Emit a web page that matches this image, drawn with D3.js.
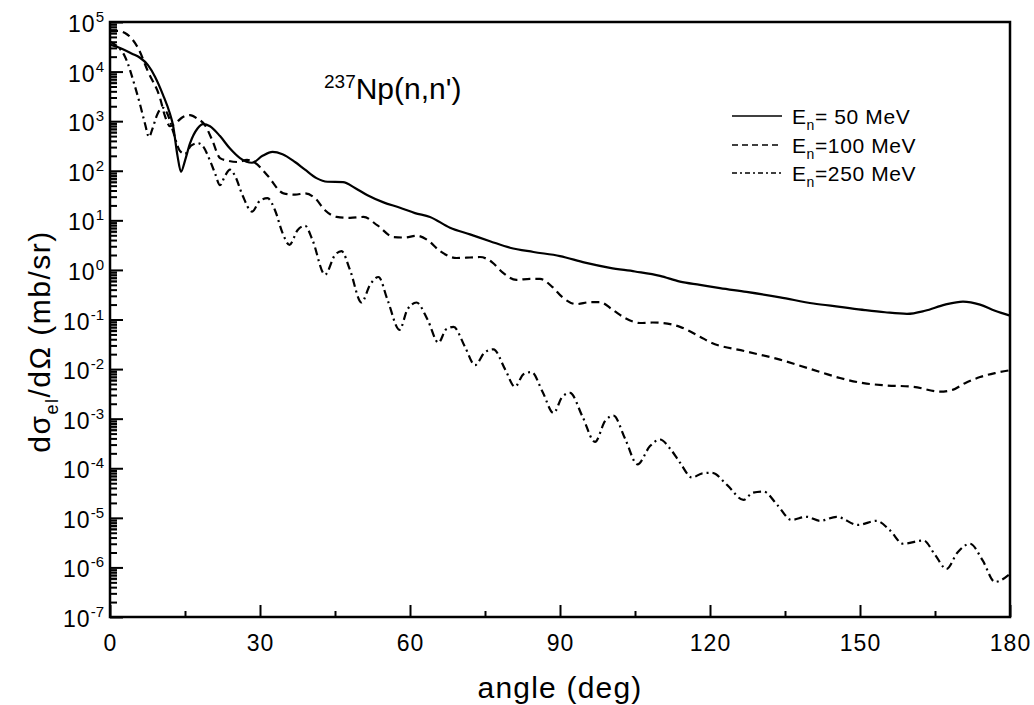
<!DOCTYPE html>
<html>
<head>
<meta charset="utf-8">
<script src="https://cdn.jsdelivr.net/npm/d3@7"></script>
<style>
  body { margin: 0; background: #fff; }
  svg text { font-family: "Liberation Sans", Arial, Helvetica, sans-serif; fill: #000; }
</style>
</head>
<body>
<script>
// E = 50 MeV
var angle50 = [0, 2, 4.4, 6, 7.6, 9, 10.6, 12, 12.6, 13.5, 14.2, 15, 16, 17.5, 18.6, 20, 22, 24, 26, 28.4,
  30.5, 32.5, 34.5, 37, 39, 41.3, 43.5, 46.6, 49, 51.5, 54.7, 58, 61, 64, 68, 72, 76, 80, 84.7, 90,
  95, 100, 105, 110, 114, 118, 122, 127.3, 134, 140.7, 146, 151, 155, 159.4, 163, 167, 170.6, 174, 177, 180];
var xs50 = [3.5e4, 3.0e4, 2.3e4, 1.9e4, 1.35e4, 7.9e3, 3.4e3, 1.4e3, 830, 200, 95, 160, 355, 710, 870, 790, 500, 280, 180, 145,
  200, 240, 215, 150, 105, 71, 60, 59, 45, 32, 23, 18, 14, 11.7, 7.1, 5.2, 3.8, 2.8, 2.3, 1.9,
  1.4, 1.1, 0.93, 0.76, 0.58, 0.5, 0.43, 0.36, 0.28, 0.21, 0.18, 0.155, 0.14, 0.13, 0.15, 0.2, 0.23, 0.2, 0.15, 0.12];

// E = 100 MeV
var angle100 = [0, 1.5, 3, 5.6, 7.6, 10, 11, 12, 13, 14.5, 16, 17.5, 19, 20.5, 22, 23.5, 25.6, 27.4, 29, 31.5,
  34.7, 37, 39, 41, 43, 45.3, 48, 50.7, 53.5, 56.7, 59, 61.3, 63.5, 66, 69.3, 72, 74, 76.5, 78.5, 81.3,
  84, 86, 88.5, 90.5, 93.3, 96, 98, 100.5, 103, 106, 108.5, 110.6, 114, 118, 120, 127, 134, 138, 142.7, 146,
  150.7, 155, 160.7, 166, 168.5, 171, 174, 177, 180];
var xs100 = [6.6e4, 6.6e4, 6.0e4, 3.0e4, 1.0e4, 2.95e3, 1260, 790, 890, 1200, 1320, 1120, 830, 400, 180, 160, 150, 165, 145, 80,
  35, 33, 35, 28, 16, 11.7, 11.2, 11.7, 7.9, 4.6, 4.5, 4.9, 4.0, 2.4, 1.74, 1.78, 1.82, 1.41, 0.89, 0.63,
  0.66, 0.66, 0.45, 0.28, 0.204, 0.224, 0.224, 0.158, 0.107, 0.085, 0.087, 0.085, 0.071, 0.045, 0.035, 0.023, 0.0155, 0.0117, 0.0083, 0.0066,
  0.0052, 0.0047, 0.0044, 0.0035, 0.0038, 0.0052, 0.0069, 0.0083, 0.0095];

// E = 250 MeV
var angle250 = [0, 1, 3, 5, 6, 7, 7.8, 8.5, 9.5, 10.6, 11.5, 12.6, 14, 15, 16.2, 17.5, 18.5, 20, 21, 22,
  23, 24, 25, 26.5, 28.4, 30, 31.5, 33, 34.5, 35.9, 37.5, 39, 40.5, 43, 45, 46.3, 48, 50.3, 52, 53.7,
  55.5, 57.9, 59.5, 61.3, 63.5, 65.7, 67.2, 68.7, 71, 73, 75, 76.7, 79, 81, 82.7, 84.3, 86.5, 88.7, 90.5, 92,
  94.5, 97, 99, 100.7, 103, 105.5, 108, 110, 112, 114, 116.4, 118.5, 120.4, 123.5, 126.7, 128.5, 130.7, 133.5, 136.3, 139.3,
  142, 145.3, 149.6, 153.3, 156, 158.6, 162.7, 165, 167.3, 169.5, 172, 174.5, 177, 180];
var xs250 = [4.0e4, 3.5e4, 2.0e4, 5.0e3, 2.2e3, 890, 480, 710, 1400, 1860, 1400, 630, 250, 220, 320, 360, 320, 160, 89, 51,
  79, 105, 79, 32, 15, 25, 28, 16, 5.6, 3.2, 6.3, 7.8, 4.0, 0.8, 2.0, 2.4, 1.0, 0.22, 0.5, 0.72,
  0.25, 0.062, 0.16, 0.22, 0.1, 0.034, 0.063, 0.071, 0.028, 0.012, 0.022, 0.025, 0.01, 0.0044, 0.0079, 0.0087, 0.0035, 0.0013, 0.0028, 0.0033,
  0.0011, 3.4e-4, 8.9e-4, 1.15e-3, 4.0e-4, 1.2e-4, 2.8e-4, 3.8e-4, 2.5e-4, 1.3e-4, 6.5e-5, 7.9e-5, 8.1e-5, 4.5e-5, 2.3e-5, 3.2e-5, 3.4e-5, 1.8e-5, 9.1e-6, 1.05e-5,
  8.7e-6, 1.05e-5, 7.2e-6, 8.7e-6, 5.6e-6, 3.0e-6, 3.5e-6, 1.8e-6, 9.3e-7, 2.0e-6, 3.0e-6, 1.4e-6, 5.1e-7, 7.4e-7];

var xTicks = [0, 30, 60, 90, 120, 150, 180];
var xMinor = [15, 45, 75, 105, 135, 165];
var yExps = [5, 4, 3, 2, 1, 0, -1, -2, -3, -4, -5, -6, -7];
var legendLabels = ["= 50 MeV", "=100 MeV", "=250 MeV"];

var W = 1034, H = 705;
var margin = {left: 110, top: 22, right: 24, bottom: 88};
var w = W - margin.left - margin.right, h = H - margin.top - margin.bottom;

var svg = d3.select("body").append("svg")
    .attr("width", W)
    .attr("height", H);

var g = svg.append("g").attr("transform", "translate(" + margin.left + "," + margin.top + ")");

var x = d3.scaleLinear().domain([0, 180]).range([0, w]);
var y = d3.scaleLog().domain([1e-7, 1e5]).range([h, 0]);

// gray scan blobs along the left axis
g.selectAll(".blob")
    .data(yExps.slice(0, -1))
    .enter().append("rect")
    .attr("x", 1)
    .attr("y", function(e) { return y(Math.pow(10, e)) + 1; })
    .attr("width", 6)
    .attr("height", 12)
    .attr("fill", "#aaa");

// minor y ticks
var minorY = [];
for (var e = -7; e < 5; e++) {
    for (var k = 2; k <= 9; k++) minorY.push(k * Math.pow(10, e));
}
g.append("g")
    .call(d3.axisLeft(y).tickValues(minorY).tickSizeInner(-7).tickSizeOuter(0).tickFormat(""))
    .call(function(s) { s.select(".domain").remove(); })
    .selectAll("line").attr("stroke-width", 2);

g.append("g")
    .call(d3.axisLeft(y).tickValues(yExps.map(function(e) { return Math.pow(10, e); }))
        .tickSizeInner(-13).tickSizeOuter(0).tickFormat(""))
    .call(function(s) { s.select(".domain").remove(); })
    .selectAll("line").attr("stroke-width", 2);

// y tick labels 10^n
var ylab = g.selectAll(".ylab")
    .data(yExps)
    .enter().append("text")
    .attr("x", -6)
    .attr("y", function(e) { return y(Math.pow(10, e)) + 10; })
    .attr("text-anchor", "end")
    .style("font-size", "23px")
    .style("letter-spacing", "1px");
ylab.append("tspan").text("10");
ylab.append("tspan")
    .attr("dy", -10)
    .style("font-size", "15px")
    .style("letter-spacing", "0px")
    .text(function(e) { return e; });

// x axis
g.append("g")
    .attr("transform", "translate(0," + h + ")")
    .call(d3.axisBottom(x).tickValues(xMinor).tickSizeInner(-6).tickSizeOuter(0).tickFormat(""))
    .call(function(s) { s.select(".domain").remove(); })
    .selectAll("line").attr("stroke-width", 2);

var xa = g.append("g")
    .attr("transform", "translate(0," + h + ")")
    .call(d3.axisBottom(x).tickValues(xTicks).tickSizeInner(-12).tickSizeOuter(0).tickPadding(18));
xa.select(".domain").remove();
xa.selectAll("line").attr("stroke-width", 2);
xa.selectAll("text")
    .style("font-size", "23px")
    .style("letter-spacing", "1px")
    .style("font-family", "'Liberation Sans', Arial, sans-serif");

// frame
g.append("rect")
    .attr("width", w)
    .attr("height", h)
    .attr("fill", "none")
    .attr("stroke", "#000")
    .attr("stroke-width", 2.5);

// curves
var line = d3.line()
    .x(function(d) { return x(d[0]); })
    .y(function(d) { return y(d[1]); })
    .curve(d3.curveMonotoneX);

var series = [
    {a: angle50, v: xs50, dash: null},
    {a: angle100, v: xs100, dash: "8,5"},
    {a: angle250, v: xs250, dash: "8,4,2,4"}
];

g.append("g").selectAll("path")
    .data(series)
    .enter().append("path")
    .attr("d", function(s) { return line(d3.zip(s.a, s.v)); })
    .attr("fill", "none")
    .attr("stroke", "#000")
    .attr("stroke-width", 2.2)
    .attr("stroke-dasharray", function(s) { return s.dash; });

// legend
var legY = [116, 145, 173];
var leg = svg.append("g");
leg.selectAll("line")
    .data(series)
    .enter().append("line")
    .attr("x1", 732).attr("x2", 782)
    .attr("y1", function(d, i) { return legY[i]; })
    .attr("y2", function(d, i) { return legY[i]; })
    .attr("stroke", "#000")
    .attr("stroke-width", 1.6)
    .attr("stroke-dasharray", function(s) { return s.dash ? (s.dash == "8,5" ? "6,4" : "5,3,2,3") : null; });

var lt = leg.selectAll("text")
    .data(legendLabels)
    .enter().append("text")
    .attr("x", 792)
    .attr("y", function(d, i) { return legY[i] + 8; })
    .style("font-size", "21px")
    .style("letter-spacing", "0.6px");
lt.append("tspan").text("E");
lt.append("tspan").attr("dy", 6).style("font-size", "14px").text("n");
lt.append("tspan").attr("dy", -6).text(function(d) { return d; });

// title
var title = svg.append("text")
    .attr("x", 324)
    .attr("y", 99)
    .style("font-size", "30px");
title.append("tspan").attr("dy", -11).style("font-size", "19px").text("237");
title.append("tspan").attr("dy", 11).text("Np(n,n')");

// axis titles
svg.append("text")
    .attr("x", margin.left + w / 2)
    .attr("y", 698)
    .attr("text-anchor", "middle")
    .style("font-size", "30px")
    .style("letter-spacing", "1.2px")
    .text("angle (deg)");

var yt = svg.append("text")
    .attr("transform", "translate(50," + (margin.top + h / 2 + 22) + ") rotate(-90)")
    .attr("text-anchor", "middle")
    .style("font-size", "30px")
    .style("letter-spacing", "1.5px");
yt.append("tspan").text("dσ");
yt.append("tspan").attr("dy", 8).style("font-size", "18px").text("el");
yt.append("tspan").attr("dy", -8).text("/dΩ (mb/sr)");
</script>
</body>
</html>
